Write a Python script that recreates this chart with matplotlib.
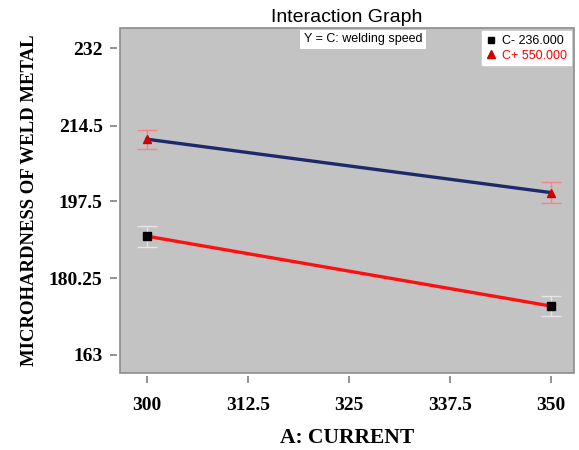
import matplotlib
matplotlib.use('Agg')
import matplotlib.pyplot as plt
from matplotlib.lines import Line2D
from matplotlib.patches import Rectangle

# data
current = [300, 350]
c_minus = [189.7, 174.0]
c_minus_err = [2.4, 2.2]
c_plus = [211.5, 199.5]
c_plus_err = [2.1, 2.3]

x_ticks = [300, 312.5, 325, 337.5, 350]
x_labels = ['300', '312.5', '325', '337.5', '350']
y_ticks = [163, 180.25, 197.5, 214.5, 232]
y_labels = ['163', '180.25', '197.5', '214.5', '232']

legend_labels = ['C- 236.000', 'C+ 550.000']

SERIF = ['Liberation Serif', 'DejaVu Serif']
SANS = ['Liberation Sans', 'DejaVu Sans']

fig = plt.figure(figsize=(5.79, 4.5), dpi=100)
ax = fig.add_axes([0.2073, 0.1711, 0.7841, 0.7667])
ax.set_facecolor('#c3c3c3')

# spines first: moving them resets the tick objects
for s in ['left', 'bottom']:
    ax.spines[s].set_position(('outward', 2.5))
    ax.spines[s].set_color('none')
for s in ['right', 'top']:
    ax.spines[s].set_visible(False)

# C- : red line, black squares
ax.errorbar(current, c_minus, yerr=c_minus_err, color='#ff1010', lw=2.4,
            marker='s', ms=5.5, mfc='black', mec='black',
            ecolor='#e6e6e6', elinewidth=1.0, capsize=7, capthick=1.0, zorder=3)
# C+ : navy line, red triangles
ax.errorbar(current, c_plus, yerr=c_plus_err, color='#1c2a6b', lw=2.4,
            marker='^', ms=6, mfc='#d00000', mec='#d00000',
            ecolor='#ff8080', elinewidth=1.0, capsize=7, capthick=1.0, zorder=3)

ax.set_xlim(296.66, 352.85)
ax.set_ylim(158.95, 236.5)

ax.set_xticks(x_ticks)
ax.set_xticklabels(x_labels, fontfamily=SERIF, fontweight='bold', fontsize=14)
ax.set_yticks(y_ticks)
ax.set_yticklabels(y_labels, fontfamily=SERIF, fontweight='bold', fontsize=14)
ax.tick_params(axis='both', direction='out', length=5, width=1.2, color='#808080')
ax.tick_params(axis='y', pad=5)
ax.tick_params(axis='x', pad=10)

# plot frame
ax.add_patch(Rectangle((0, 0), 1, 1, transform=ax.transAxes, fill=False,
                       edgecolor='#8c8c8c', lw=1.2, clip_on=False, zorder=5))

ax.set_title('Interaction Graph', fontfamily=SANS, fontsize=14, pad=4)
ax.set_xlabel('A: CURRENT', fontfamily=SERIF, fontweight='bold', fontsize=15.5, labelpad=10)
ax.set_ylabel('MICROHARDNESS OF WELD METAL', fontfamily=SERIF, fontweight='bold',
              fontsize=13.5, labelpad=8)

ax.text(0.405, 0.985, 'Y = C: welding speed', transform=ax.transAxes, fontfamily=SANS,
        fontsize=9, va='top', ha='left',
        bbox=dict(facecolor='white', edgecolor='none', pad=2.5))

handles = [Line2D([], [], ls='none', marker='s', ms=5, color='black'),
           Line2D([], [], ls='none', marker='^', ms=6, color='#d00000')]
leg = ax.legend(handles, legend_labels, loc='upper right', bbox_to_anchor=(0.993, 0.99),
                prop={'family': SANS, 'size': 9}, frameon=True, fancybox=False,
                handlelength=0.8, handletextpad=0.5, borderpad=0.3, labelspacing=0.2,
                borderaxespad=0.0)
leg.get_frame().set_edgecolor('white')
leg.get_frame().set_facecolor('white')
leg.get_frame().set_alpha(1)
leg.get_texts()[0].set_color('black')
leg.get_texts()[1].set_color('#ff0000')

fig.savefig('out.png', dpi=100)
